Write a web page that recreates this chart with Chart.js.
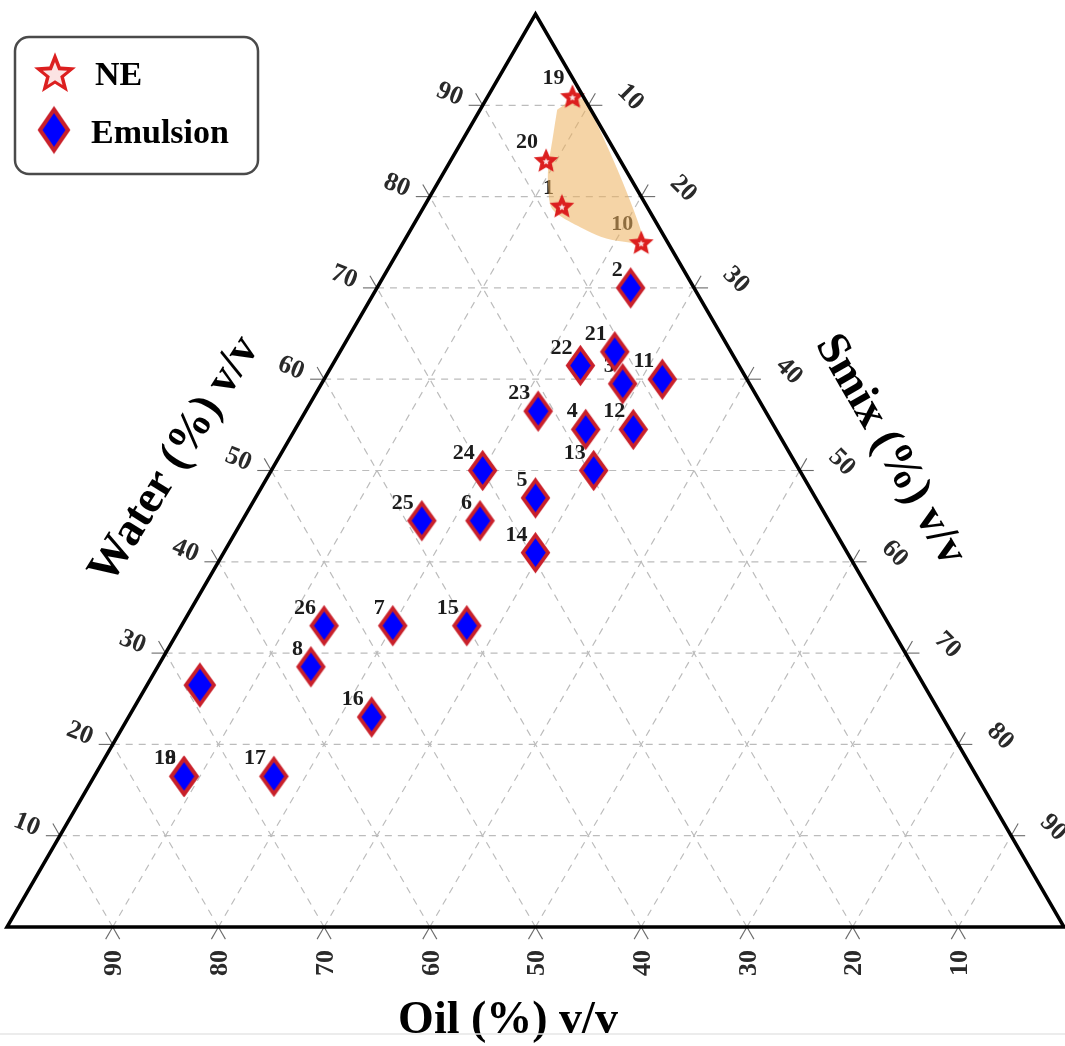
<!DOCTYPE html>
<html>
<head>
<meta charset="utf-8">
<script src="https://cdn.jsdelivr.net/npm/chart.js@4.4.0/dist/chart.umd.min.js"></script>
<style>
  html, body { margin: 0; padding: 0; background: #fff; }
  #wrap { width: 1065px; height: 1046px; }
</style>
</head>
<body>
<div id="wrap"><canvas id="tern" width="1065" height="1046"></canvas></div>
<script>
'use strict';

// compositions in % v/v (water + oil + smix = 100)
const neLabels = ['19', '20', '1', '10'];
const neWater = [91, 84, 79, 75];
const neOil = [1, 7, 8, 2.5];
const neSmix = [8, 9, 13, 22.5];

const emLabels = ['2', '21', '3', '11', '22', '23', '4', '12', '24', '13', '5', '6', '25', '14', '26', '7', '15', '8', '', '16', '18', '9', '17'];
const emWater = [70, 63, 59.5, 60, 61.5, 56.5, 54.5, 54.5, 50, 50, 47, 44.5, 44.5, 41, 33, 33, 33, 28.5, 26.5, 23, 16.5, 16.5, 16.5];
const emOil = [6, 11, 12, 8, 15, 21.5, 18, 13.5, 30, 19.5, 26.5, 33, 38.5, 29.5, 53.5, 47, 40, 57, 68.5, 54, 75, 75, 66.5];
const emSmix = [24, 26, 28.5, 32, 23.5, 22, 27.5, 32, 20, 30.5, 26.5, 22.5, 17, 29.5, 13.5, 20, 27, 14.5, 5, 23, 8.5, 8.5, 17];

// nanoemulsion zone outline (water, smix)
const neZoneWater = [89.5, 90.6, 90.5, 74.8, 75, 75.4, 76.3, 77.7, 78.8, 81, 83.2, 86.2, 89.5];
const neZoneSmix = [7.3, 8.2, 9.5, 23, 21.2, 19, 16.7, 13.7, 12.1, 10.7, 9.6, 8.5, 7.3];

const gridSteps = [10, 20, 30, 40, 50, 60, 70, 80, 90];

const serif = "'Liberation Serif', 'Times New Roman', serif";

// ternary -> cartesian (oil corner bottom-left, smix bottom-right, water top)
function toXY(water, smix) {
    return { x: smix + water / 2, y: water };
}

function starPath(ctx, cx, cy, R, r) {
    ctx.beginPath();
    for (let i = 0; i < 10; i++) {
        let a = -Math.PI / 2 + i * Math.PI / 5;
        let rad = i % 2 === 0 ? R : r;
        let px = cx + rad * Math.cos(a);
        let py = cy + rad * Math.sin(a);
        if (i === 0) ctx.moveTo(px, py); else ctx.lineTo(px, py);
    }
    ctx.closePath();
}

function diamondPath(ctx, cx, cy, hw, hh) {
    ctx.beginPath();
    ctx.moveTo(cx, cy - hh);
    ctx.lineTo(cx + hw, cy);
    ctx.lineTo(cx, cy + hh);
    ctx.lineTo(cx - hw, cy);
    ctx.closePath();
}

function makeDiamond(hw, hh, lw) {
    let c = document.createElement('canvas');
    c.width = Math.ceil(hw * 2 + 10);
    c.height = Math.ceil(hh * 2 + 12);
    let g = c.getContext('2d');
    diamondPath(g, c.width / 2, c.height / 2, hw, hh);
    g.fillStyle = '#0000ff';
    g.fill();
    g.lineWidth = lw;
    g.lineJoin = 'miter';
    g.strokeStyle = '#c9202a';
    g.stroke();
    return c;
}

function makeStar(R, r, hole) {
    let c = document.createElement('canvas');
    c.width = Math.ceil(R * 2 + 4);
    c.height = Math.ceil(R * 2 + 4);
    let g = c.getContext('2d');
    let cx = c.width / 2, cy = c.height / 2 + R * 0.1;
    starPath(g, cx, cy, R, r);
    g.fillStyle = '#dc1f1f';
    g.fill();
    starPath(g, cx, cy + R * 0.02, R * hole, r * hole);
    g.fillStyle = '#fbe3e3';
    g.fill();
    return c;
}

const diamond = makeDiamond(12.5, 17.5, 3.8);
const bigDiamond = makeDiamond(14, 19.5, 3.8);
const star = makeStar(13, 6, 0.28);

const legendDiamond = makeDiamond(14, 20.5, 4);
const legendStar = makeStar(22, 9.5, 0.58);

const neData = neLabels.map((l, i) => toXY(neWater[i], neSmix[i]));
const emData = emLabels.map((l, i) => toXY(emWater[i], emSmix[i]));
const zoneData = neZoneWater.map((w, i) => toXY(w, neZoneSmix[i]));

function strokeLine(ctx, a, b) {
    ctx.beginPath();
    ctx.moveTo(a[0], a[1]);
    ctx.lineTo(b[0], b[1]);
    ctx.stroke();
}

// grid, ticks, tick labels and point labels go under the markers
const ternaryAxes = {
    id: 'ternaryAxes',
    beforeDatasetsDraw(chart) {
        const ctx = chart.ctx;
        const sx = chart.scales.x, sy = chart.scales.y;
        const P = (w, s) => [sx.getPixelForValue(s + w / 2), sy.getPixelForValue(w)];

        let lines = [];
        for (let k of gridSteps) {
            lines.push([P(k, 0), P(k, 100 - k)]);         // water = k
            lines.push([P(0, k), P(100 - k, k)]);         // smix = k
            lines.push([P(0, 100 - k), P(100 - k, 0)]);   // oil = k
        }

        ctx.save();
        ctx.strokeStyle = '#bcbcbc';
        ctx.lineWidth = 1.2;
        ctx.setLineDash([7, 6]);
        for (let [a, b] of lines) strokeLine(ctx, a, b);

        // short solid ticks continuing each grid line past the edges
        ctx.setLineDash([]);
        ctx.strokeStyle = '#6a6a6a';
        ctx.lineWidth = 1.1;
        const tickLen = 14;
        for (let [a, b] of lines) {
            let dx = b[0] - a[0], dy = b[1] - a[1];
            let len = Math.hypot(dx, dy);
            dx /= len; dy /= len;
            strokeLine(ctx, a, [a[0] - dx * tickLen, a[1] - dy * tickLen]);
            strokeLine(ctx, b, [b[0] + dx * tickLen, b[1] + dy * tickLen]);
        }

        ctx.fillStyle = '#2a2a2a';
        ctx.font = 'bold 26px ' + serif;
        ctx.textAlign = 'center';
        ctx.textBaseline = 'middle';
        const label = (txt, x, y, deg) => {
            ctx.save();
            ctx.translate(x, y);
            ctx.rotate(deg * Math.PI / 180);
            ctx.fillText(txt, 0, 0);
            ctx.restore();
        };
        for (let k of gridSteps) {
            let pw = P(k, 0);
            label(String(k), pw[0] - 33, pw[1] - 11, 22);
            let ps = P(100 - k, k);
            label(String(k), ps[0] + 42, ps[1] - 8, 45);
            let po = P(0, 100 - k);
            label(String(k), po[0] + 2, po[1] + 36, -90);
        }

        // sample numbers
        ctx.fillStyle = '#1c1c1c';
        ctx.font = 'bold 22px ' + serif;
        ctx.textAlign = 'right';
        ctx.textBaseline = 'alphabetic';
        chart.data.datasets.forEach((ds, di) => {
            if (!ds.pointLabels) return;
            let meta = chart.getDatasetMeta(di);
            meta.data.forEach((pt, i) => {
                let t = ds.pointLabels[i];
                if (t) ctx.fillText(t, pt.x - 8, pt.y - 12);
            });
        });
        ctx.restore();
    },
    afterDatasetsDraw(chart) {
        const ctx = chart.ctx;
        const sx = chart.scales.x, sy = chart.scales.y;
        const P = (w, s) => [sx.getPixelForValue(s + w / 2), sy.getPixelForValue(w)];
        let a = P(0, 0), b = P(0, 100), c = P(100, 0);
        ctx.save();
        ctx.strokeStyle = '#000';
        ctx.lineWidth = 3.5;
        ctx.lineJoin = 'miter';
        ctx.beginPath();
        ctx.moveTo(a[0], a[1]);
        ctx.lineTo(b[0], b[1]);
        ctx.lineTo(c[0], c[1]);
        ctx.closePath();
        ctx.stroke();
        ctx.restore();
    },
    afterDraw(chart) {
        const ctx = chart.ctx;
        ctx.save();

        // axis titles
        ctx.fillStyle = '#000';
        ctx.font = 'bold 46px ' + serif;
        ctx.textAlign = 'center';
        ctx.textBaseline = 'middle';
        ctx.save();
        ctx.translate(175, 460);
        ctx.rotate(-58 * Math.PI / 180);
        ctx.fillText('Water (%) v/v', 0, 0);
        ctx.restore();
        ctx.save();
        ctx.translate(890, 450);
        ctx.rotate(60 * Math.PI / 180);
        ctx.fillText('Smix (%) v/v', 0, 0);
        ctx.restore();
        ctx.textBaseline = 'alphabetic';
        ctx.fillText('Oil (%) v/v', 508, 1033);

        // legend box
        ctx.strokeStyle = '#4a4a4a';
        ctx.lineWidth = 2.5;
        ctx.beginPath();
        ctx.roundRect(15, 37, 243, 137, 14);
        ctx.stroke();

        let icons = [legendStar, legendDiamond];
        let rows = [[55, 72, 95, 85], [54, 130, 91, 143]];
        ctx.font = 'bold 34px ' + serif;
        ctx.textAlign = 'left';
        chart.data.datasets.filter(d => d.label).forEach((d, i) => {
            let [ix, iy, tx, ty] = rows[i];
            let img = icons[i];
            ctx.drawImage(img, ix - img.width / 2, iy - img.height / 2);
            ctx.fillText(d.label, tx, ty);
        });

        ctx.strokeStyle = '#e6e6e6';
        ctx.lineWidth = 1.5;
        ctx.beginPath();
        ctx.moveTo(0, 1034);
        ctx.lineTo(1065, 1034);
        ctx.stroke();
        ctx.restore();
    }
};

new Chart(document.querySelector('#tern'), {
    type: 'scatter',
    data: {
        datasets: [
            {
                label: 'NE',
                data: neData,
                pointLabels: neLabels,
                pointStyle: star,
                pointRadius: 10,
                order: 1,
                clip: false,
            },
            {
                label: 'Emulsion',
                data: emData,
                pointLabels: emLabels,
                pointStyle: ctx => emLabels[ctx.dataIndex] === '' ? bigDiamond : diamond,
                pointRadius: 10,
                order: 2,
                clip: false,
            },
            {
                type: 'line',
                data: zoneData,
                showLine: true,
                pointRadius: 0,
                borderWidth: 0,
                borderColor: 'rgba(0,0,0,0)',
                backgroundColor: 'rgba(236,176,92,0.55)',
                fill: 'shape',
                tension: 0.3,
                order: 3,
            },
        ],
    },
    options: {
        responsive: false,
        animation: false,
        events: [],
        layout: { autoPadding: false, padding: { left: 7, right: 1, top: 14, bottom: 119 } },
        scales: {
            x: { type: 'linear', min: 0, max: 100, display: false },
            y: { type: 'linear', min: 0, max: 100, display: false },
        },
        plugins: {
            legend: { display: false },
            tooltip: { enabled: false },
        },
    },
    plugins: [ternaryAxes],
});
</script>
</body>
</html>
